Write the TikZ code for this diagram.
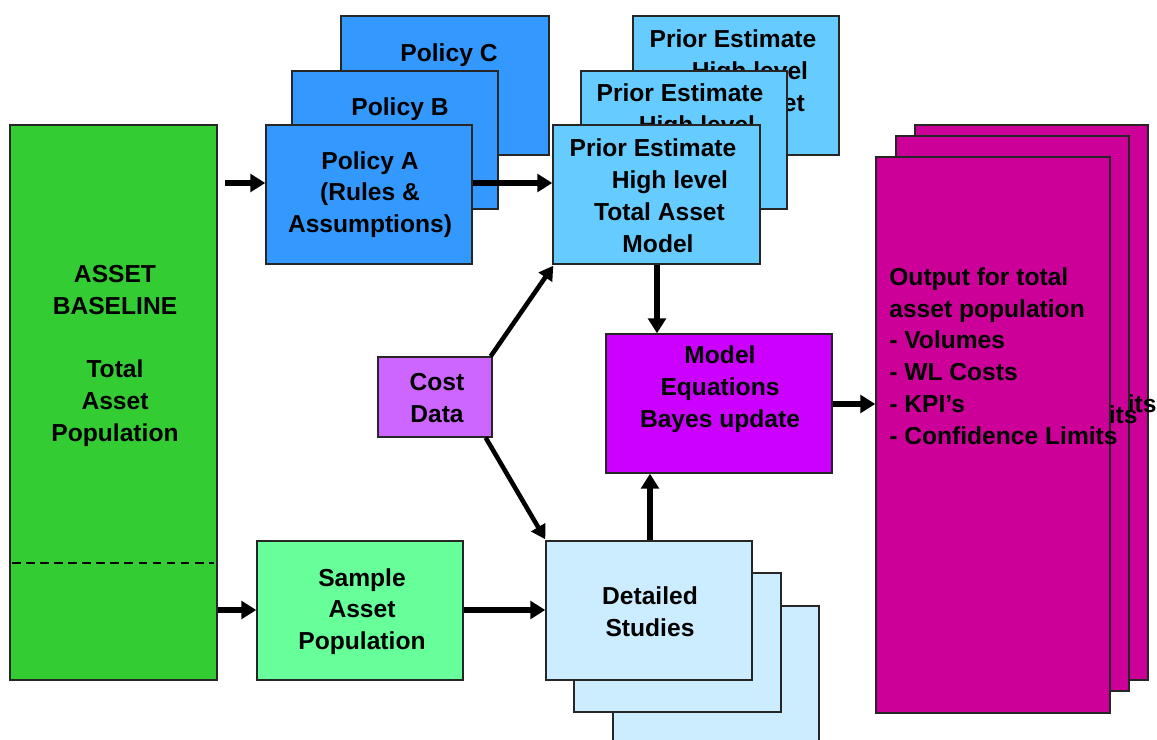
\documentclass[tikz,border=0pt]{standalone}
\usepackage{fontspec}
\setmainfont{Liberation Sans}
\usetikzlibrary{arrows.meta,fit,calc}
\definecolor{cgreen}{HTML}{33CC33}
\definecolor{cpolicy}{HTML}{3399FF}
\definecolor{cprior}{HTML}{66CCFF}
\definecolor{ccost}{HTML}{CC66FF}
\definecolor{cmodel}{HTML}{CC00FF}
\definecolor{csample}{HTML}{66FF99}
\definecolor{cdetail}{HTML}{CCECFF}
\definecolor{coutput}{HTML}{CC0099}
\begin{document}
\begin{tikzpicture}[x=0.02cm,y=-0.02cm,
  box/.style={draw=black!85, line width=0.8pt, inner sep=0pt},
  txt/.style={font=\fontsize{14}{18.1}\selectfont\bfseries, align=center, inner sep=0pt},
  otxt/.style={font=\fontsize{14}{18.1}\selectfont\bfseries, align=left, inner sep=0pt, anchor=west},
  arr/.style={line width=3.2pt, -{Triangle[length=8.5pt,width=10pt]}},
  arrthin/.style={line width=2.6pt, -{Triangle[length=8pt,width=9pt]}}]
\useasboundingbox (0,0) rectangle (1157,740);
\coordinate (r1) at (0,183);
\coordinate (r2) at (0,610);
\coordinate (r3) at (0,404);
\coordinate (cx1) at (657,0);
\coordinate (cx2) at (650,0);

% asset baseline
\node[box, fill=cgreen, fit={(10,125) (217,680)}] (asset) {};
\node[txt] (assettxt) at (115,356) {ASSET\\BASELINE\\\mbox{}\\Total\\Asset\\Population};
\coordinate (dl) at (12,563);
\coordinate (dr) at (214,563);
\draw[dashed, line width=0.9pt, dash pattern=on 5pt off 3pt] (dl) -- (dr);

% policies
\node[box, fill=cpolicy, fit={(341,16) (549,155)}] (polC) {};
\node[txt] (polCtxt) at (449,55) {Policy C};
\node[box, fill=cpolicy, fit={(292,71) (498,209)}] (polB) {};
\node[txt] (polBtxt) at (400,109) {Policy B};
\node[box, fill=cpolicy, fit={(266,125) (472,264)}] (polA) {};
\node[txt] (polAtxt) at (370,194.5) {Policy A\\(Rules \&\\Assumptions)};

% prior estimates
\node[box, fill=cprior, fit={(633,16) (839,155)}] (prior3) {};
\node[txt] (prior3txt) at (733,86.75) {Prior Estimate\\\hspace*{19.3pt}High level\\\hspace*{7.4pt}Total Asset\\\hspace*{5.7pt}Model};
\node[box, fill=cprior, fit={(581,71) (787,209)}] (prior2) {};
\node[txt] (prior2txt) at (680,140.75) {Prior Estimate\\\hspace*{19.3pt}High level\\\hspace*{7.4pt}Total Asset\\\hspace*{5.7pt}Model};
\node[box, fill=cprior, fit={(553,125) (760,264)}] (prior1) {};
\node[txt] (prior1txt) at (653,195.75) {Prior Estimate\\\hspace*{19.3pt}High level\\\hspace*{7.4pt}Total Asset\\\hspace*{5.7pt}Model};

% cost data
\node[box, fill=ccost, fit={(378,357) (492,437)}] (cost) {};
\node[txt] (costtxt) at (437,398) {Cost\\Data};

% model
\node[box, fill=cmodel, fit={(606,334) (832,473)}] (model) {};
\node[txt] (modeltxt) at (720,389) {Model\\Equations\\Bayes update};

% sample
\node[box, fill=csample, fit={(257,541) (463,680)}] (sample) {};
\node[txt] (sampletxt) at (362,611.5) {Sample\\Asset\\Population};

% detailed studies
\node[box, fill=cdetail, fit={(613,606) (819,760)}] (det3) {};
\node[box, fill=cdetail, fit={(574,573) (781,712)}] (det2) {};
\node[box, fill=cdetail, fit={(546,541) (752,680)}] (det1) {};
\node[txt] (det1txt) at (650,612) {Detailed\\Studies};

% outputs
\node[box, fill=coutput, fit={(915,125) (1148,680)}] (out3) {};
\node[otxt] (out3txt) at (928,324) {Output for total\\asset population\\- Volumes\\- WL Costs\\- KPI’s\\- Confidence Limits};
\node[box, fill=coutput, fit={(896,136) (1129,691)}] (out2) {};
\node[otxt] (out2txt) at (909,335) {Output for total\\asset population\\- Volumes\\- WL Costs\\- KPI’s\\- Confidence Limits};
\node[box, fill=coutput, fit={(876,157) (1110,713)}] (out1) {};
\node[otxt] (out1txt) at (889,356) {Output for total\\asset population\\- Volumes\\- WL Costs\\- KPI’s\\- Confidence Limits};

% arrows
\draw[arr] ($(asset.east |- r1)+(7,0)$) -- (polA.west |- r1);
\draw[arr] (polA.east |- r1) -- (prior1.west |- r1);
\draw[arr] (prior1.south -| cx1) -- (model.north -| cx1);
\draw[arr] (det1.north -| cx2) -- (model.south -| cx2);
\draw[arr] (asset.east |- r2) -- (sample.west |- r2);
\draw[arr] (sample.east |- r2) -- (det1.west |- r2);
\draw[arr] (model.east |- r3) -- (out1.west |- r3);
\draw[arrthin] ($(cost.north east)+(-2,0)$) -- ($(prior1.south west)+(1,1)$);
\draw[arrthin] ($(cost.south east)+(-7,0)$) -- ($(det1.north west)+(0,-1)$);
\end{tikzpicture}
\end{document}
